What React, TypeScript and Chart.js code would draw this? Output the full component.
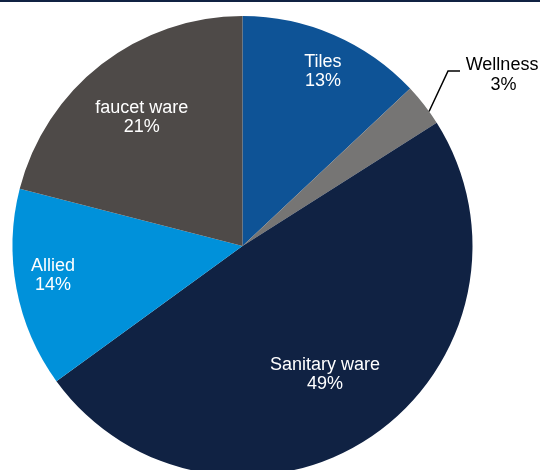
import React, { useEffect, useRef } from "react";
import { Chart, registerables } from "chart.js";

Chart.register(...registerables);

// Revenue mix by segment (%)
const segments = ["Tiles", "Wellness", "Sanitary ware", "Allied", "faucet ware"];
const shares = [13, 3, 49, 14, 21];
const sliceColors = ["#0E5396", "#767574", "#102243", "#0091DA", "#4E4A48"];

// Label placement: angle shift (deg) from the slice middle and radius fraction
const labelAngleShift = [1.3, 0, 1.5, 2.05, -0.4];
const labelRadiusFrac = [0.837, 0, 0.664, 0.834, 0.709];
const outsideLabel = [false, true, false, false, false];

const FONT = '18px "Liberation Sans", Arial, sans-serif';
const LINE_GAP = 19;

const labelPlugin = {
  id: "sliceLabels",
  afterDatasetsDraw(chart: any) {
    const ctx = chart.ctx as CanvasRenderingContext2D;
    const meta = chart.getDatasetMeta(0);
    ctx.save();
    ctx.font = FONT;
    ctx.textAlign = "center";
    ctx.textBaseline = "middle";
    meta.data.forEach((arc: any, i: number) => {
      const { x, y, startAngle, endAngle, outerRadius } = arc.getProps(
        ["x", "y", "startAngle", "endAngle", "outerRadius"],
        true
      );
      const pct = `${shares[i]}%`;
      if (!outsideLabel[i]) {
        const a = (startAngle + endAngle) / 2 + (labelAngleShift[i] * Math.PI) / 180;
        const r = outerRadius * labelRadiusFrac[i];
        const cx = x + Math.cos(a) * r;
        const cy = y + Math.sin(a) * r;
        ctx.fillStyle = "#ffffff";
        ctx.fillText(segments[i], cx, cy - LINE_GAP / 2);
        ctx.fillText(pct, cx, cy + LINE_GAP / 2);
      } else {
        // leader line from the rim, up to an elbow, then a short horizontal run
        const a = (startAngle + endAngle) / 2 + (2 * Math.PI) / 180;
        const sx = x + Math.cos(a) * outerRadius;
        const sy = y + Math.sin(a) * outerRadius;
        const ex = sx + 19;
        const ey = sy - 40.5;
        ctx.strokeStyle = "#000000";
        ctx.lineWidth = 1.5;
        ctx.beginPath();
        ctx.moveTo(sx, sy);
        ctx.lineTo(ex, ey);
        ctx.lineTo(ex + 12, ey);
        ctx.stroke();
        ctx.fillStyle = "#000000";
        ctx.fillText(segments[i], ex + 54, ey - 6);
        ctx.fillText(pct, ex + 55.5, ey + 14);
      }
    });
    ctx.restore();
  },
};

const topRulePlugin = {
  id: "topRule",
  afterDraw(chart: any) {
    const ctx = chart.ctx as CanvasRenderingContext2D;
    ctx.save();
    ctx.fillStyle = "#102243";
    ctx.fillRect(0, 0, chart.width, 2);
    ctx.restore();
  },
};

export default function App() {
  const canvasRef = useRef<HTMLCanvasElement | null>(null);

  useEffect(() => {
    if (!canvasRef.current) return;
    const chart = new Chart(canvasRef.current, {
      type: "pie",
      data: {
        labels: segments,
        datasets: [
          {
            data: shares,
            backgroundColor: sliceColors,
            borderWidth: 0,
          },
        ],
      },
      options: {
        responsive: false,
        animation: false,
        devicePixelRatio: 1,
        layout: { padding: { top: 16, bottom: 4, left: 12.5, right: 67.5 } },
        plugins: {
          legend: { display: false },
          tooltip: { enabled: false },
        },
      },
      plugins: [labelPlugin, topRulePlugin],
    });
    return () => chart.destroy();
  }, []);

  return (
    <div
      style={{
        position: "fixed",
        left: 0,
        top: 0,
        width: 540,
        height: 470,
        overflow: "hidden",
        background: "#ffffff",
      }}
    >
      <canvas ref={canvasRef} width={540} height={480} style={{ display: "block" }} />
    </div>
  );
}
